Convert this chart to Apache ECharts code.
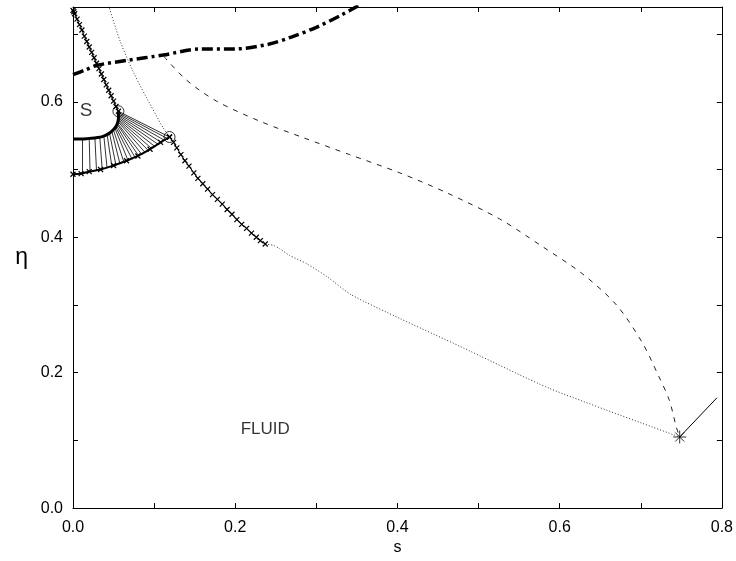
<!DOCTYPE html>
<html>
<head>
<meta charset="utf-8">
<script src="https://cdn.jsdelivr.net/npm/echarts/dist/echarts.min.js"></script>
<style>
  html, body { margin: 0; padding: 0; background: #fff; }
  #chart { width: 736px; height: 561px; }
</style>
</head>
<body>
<div id="chart"></div>
<script>
// thick dash-dot curve
var dashDotS   = [0.000, 0.015, 0.030, 0.066, 0.111, 0.157, 0.199, 0.241, 0.270, 0.300, 0.329, 0.352, 0.366]
var dashDotEta = [0.640, 0.647, 0.654, 0.661, 0.669, 0.678, 0.678, 0.685, 0.696, 0.710, 0.727, 0.742, 0.752]

// thin dashed curve
var dashedS   = [0.112, 0.140, 0.177, 0.231, 0.284, 0.341, 0.403, 0.462, 0.526, 0.579, 0.628, 0.670, 0.702, 0.722, 0.735, 0.744, 0.748]
var dashedEta = [0.667, 0.632, 0.601, 0.571, 0.547, 0.522, 0.495, 0.465, 0.427, 0.386, 0.346, 0.300, 0.244, 0.195, 0.160, 0.119, 0.105]

// dotted curve (top part and lower part)
var dottedTopS   = [0.044, 0.058, 0.074, 0.092, 0.111, 0.119]
var dottedTopEta = [0.742, 0.690, 0.645, 0.603, 0.562, 0.548]
var dottedLowS   = [0.237, 0.247, 0.255, 0.267, 0.288, 0.313, 0.343, 0.403, 0.477, 0.587, 0.748]
var dottedLowEta = [0.390, 0.388, 0.383, 0.373, 0.361, 0.342, 0.315, 0.280, 0.239, 0.177, 0.105]

// line with cross markers
var markUpS   = [0.000, 0.001, 0.002, 0.005, 0.008, 0.011, 0.014, 0.017, 0.020, 0.023, 0.026, 0.029, 0.032, 0.035, 0.038, 0.041, 0.044, 0.047, 0.050, 0.053, 0.056]
var markUpEta = [0.735, 0.733, 0.730, 0.722, 0.714, 0.706, 0.697, 0.689, 0.681, 0.673, 0.665, 0.657, 0.649, 0.641, 0.633, 0.625, 0.617, 0.609, 0.601, 0.593, 0.586]
var markLowS   = [0.119, 0.124, 0.128, 0.133, 0.138, 0.143, 0.149, 0.154, 0.160, 0.166, 0.172, 0.178, 0.184, 0.190, 0.196, 0.202, 0.208, 0.214, 0.220, 0.226, 0.231, 0.237]
var markLowEta = [0.548, 0.540, 0.532, 0.522, 0.513, 0.505, 0.495, 0.487, 0.479, 0.471, 0.463, 0.456, 0.449, 0.441, 0.434, 0.426, 0.419, 0.413, 0.406, 0.400, 0.395, 0.390]

// solid-region boundaries
var upperS   = [0.056, 0.056, 0.054, 0.050, 0.044, 0.037, 0.029, 0.020, 0.010, 0.000]
var upperEta = [0.586, 0.575, 0.566, 0.559, 0.553, 0.549, 0.547, 0.546, 0.545, 0.545]
var lowerS   = [0.119, 0.108, 0.095, 0.080, 0.066, 0.050, 0.034, 0.020, 0.010, 0.000]
var lowerEta = [0.548, 0.540, 0.530, 0.520, 0.513, 0.506, 0.500, 0.497, 0.494, 0.493]

// tie lines
var tieUpS   = [0.000, 0.011, 0.020, 0.027, 0.033, 0.038, 0.042, 0.045, 0.048, 0.050, 0.052, 0.053, 0.054, 0.055, 0.055, 0.056, 0.056, 0.056, 0.056, 0.056, 0.056, 0.056, 0.056, 0.056]
var tieUpEta = [0.545, 0.545, 0.546, 0.547, 0.548, 0.550, 0.552, 0.554, 0.556, 0.558, 0.560, 0.562, 0.564, 0.566, 0.568, 0.570, 0.572, 0.574, 0.576, 0.578, 0.580, 0.582, 0.584, 0.586]
var tieLoS   = [0.000, 0.011, 0.021, 0.029, 0.036, 0.042, 0.048, 0.053, 0.058, 0.063, 0.068, 0.073, 0.077, 0.081, 0.085, 0.089, 0.093, 0.097, 0.101, 0.105, 0.109, 0.113, 0.116, 0.119]
var tieLoEta = [0.493, 0.494, 0.496, 0.498, 0.500, 0.502, 0.504, 0.506, 0.508, 0.510, 0.513, 0.515, 0.517, 0.520, 0.522, 0.525, 0.528, 0.531, 0.534, 0.537, 0.540, 0.543, 0.546, 0.548]

var circleS   = [0.056, 0.119]
var circleEta = [0.586, 0.548]
var starS   = [0.748]
var starEta = [0.105]
var tailS   = [0.748, 0.794]
var tailEta = [0.105, 0.163]

var labelNames = ['S', 'FLUID']
var labelSizes = [19, 17]
var labelS   = [0.016, 0.237]
var labelEta = [0.587, 0.117]

function pts(xs, ys) {
  return xs.map(function (x, i) { return [x, ys[i]] })
}

var FONT = 'Liberation Sans, Arial, sans-serif'
var crossPath = 'path://M0,0 L10,10 M0,10 L10,0'
var starPath = 'path://M10,0 L10,20 M0,10 L20,10 M3,3 L17,17 M3,17 L17,3'

function tickFmt(v) {
  return Math.round(v * 10) % 2 === 0 ? v.toFixed(1) : ''
}

var axisCommon = {
  type: 'value',
  interval: 0.1,
  axisLine: { show: true, onZero: false, lineStyle: { color: '#000', width: 1 } },
  axisTick: { show: true, inside: true, length: 5, lineStyle: { color: '#000' } },
  splitLine: { show: false }
}

var chart = echarts.init(document.getElementById('chart'))
chart.setOption({
  animation: false,
  backgroundColor: '#fff',
  grid: { left: 73, right: 13, top: 7, bottom: 42, containLabel: false },
  xAxis: [
    Object.assign({}, axisCommon, {
      min: 0, max: 0.8, position: 'bottom',
      name: 's', nameLocation: 'middle', nameGap: 23,
      nameTextStyle: { fontSize: 16, color: '#000', fontFamily: FONT },
      axisLabel: { formatter: tickFmt, fontSize: 16, color: '#000', fontFamily: FONT, margin: 11 }
    }),
    Object.assign({}, axisCommon, {
      min: 0, max: 0.8, position: 'top', axisLabel: { show: false }
    })
  ],
  yAxis: [
    Object.assign({}, axisCommon, {
      min: 0, max: 0.74, position: 'left',
      name: 'η', nameLocation: 'middle', nameGap: 45, nameRotate: 0,
      nameTextStyle: { fontSize: 23, color: '#000', fontFamily: FONT },
      axisLabel: { formatter: tickFmt, showMaxLabel: false, fontSize: 16, color: '#000', fontFamily: FONT, margin: 10 }
    }),
    Object.assign({}, axisCommon, {
      min: 0, max: 0.74, position: 'right', axisLabel: { show: false }
    })
  ],
  series: [
    {
      type: 'lines', coordinateSystem: 'cartesian2d', silent: true,
      lineStyle: { color: '#000', width: 0.8, opacity: 1 },
      data: tieUpS.map(function (s, i) {
        return { coords: [[s, tieUpEta[i]], [tieLoS[i], tieLoEta[i]]] }
      })
    },
    {
      type: 'line', data: pts(dashDotS, dashDotEta), showSymbol: false, smooth: 0.3,
      lineStyle: { color: '#000', width: 3.5, type: [11, 4, 3, 4] }
    },
    {
      type: 'line', data: pts(dashedS, dashedEta), showSymbol: false, smooth: 0.3,
      lineStyle: { color: '#222', width: 1, type: [5, 6] }
    },
    {
      type: 'line', data: pts(dottedTopS, dottedTopEta), showSymbol: false, smooth: 0.3,
      lineStyle: { color: '#333', width: 1, type: [1, 2] }
    },
    {
      type: 'line', data: pts(dottedLowS, dottedLowEta), showSymbol: false, smooth: 0.2,
      lineStyle: { color: '#333', width: 1, type: [1, 2] }
    },
    {
      type: 'line', data: pts(upperS, upperEta), showSymbol: false, smooth: 0.4,
      lineStyle: { color: '#000', width: 3 }
    },
    {
      type: 'line', data: pts(lowerS, lowerEta), smooth: 0.4,
      symbol: crossPath, symbolSize: 5,
      itemStyle: { color: 'none', borderColor: '#000', borderWidth: 1.2 },
      lineStyle: { color: '#000', width: 2 }
    },
    {
      type: 'line', data: pts(markUpS, markUpEta),
      symbol: crossPath, symbolSize: 5,
      itemStyle: { color: 'none', borderColor: '#000', borderWidth: 1.2 },
      lineStyle: { color: '#000', width: 1 }
    },
    {
      type: 'line', data: pts(markLowS, markLowEta),
      symbol: crossPath, symbolSize: 5,
      itemStyle: { color: 'none', borderColor: '#000', borderWidth: 1.2 },
      lineStyle: { color: '#000', width: 1 }
    },
    {
      type: 'line', data: pts(tailS, tailEta), showSymbol: false,
      lineStyle: { color: '#000', width: 1 }
    },
    {
      type: 'scatter', data: pts(circleS, circleEta),
      symbol: 'circle', symbolSize: 11,
      itemStyle: { color: 'none', borderColor: '#000', borderWidth: 1 }
    },
    {
      type: 'scatter', data: pts(starS, starEta),
      symbol: starPath, symbolSize: 13,
      itemStyle: { color: 'none', borderColor: '#000', borderWidth: 1 }
    },
    {
      type: 'scatter', symbolSize: 1, itemStyle: { color: 'none' },
      data: labelNames.map(function (n, i) {
        return { name: n, value: [labelS[i], labelEta[i]], label: { fontSize: labelSizes[i] } }
      }),
      label: {
        show: true, position: 'inside', formatter: '{b}',
        color: '#000', fontFamily: FONT
      }
    }
  ]
})
</script>
</body>
</html>
